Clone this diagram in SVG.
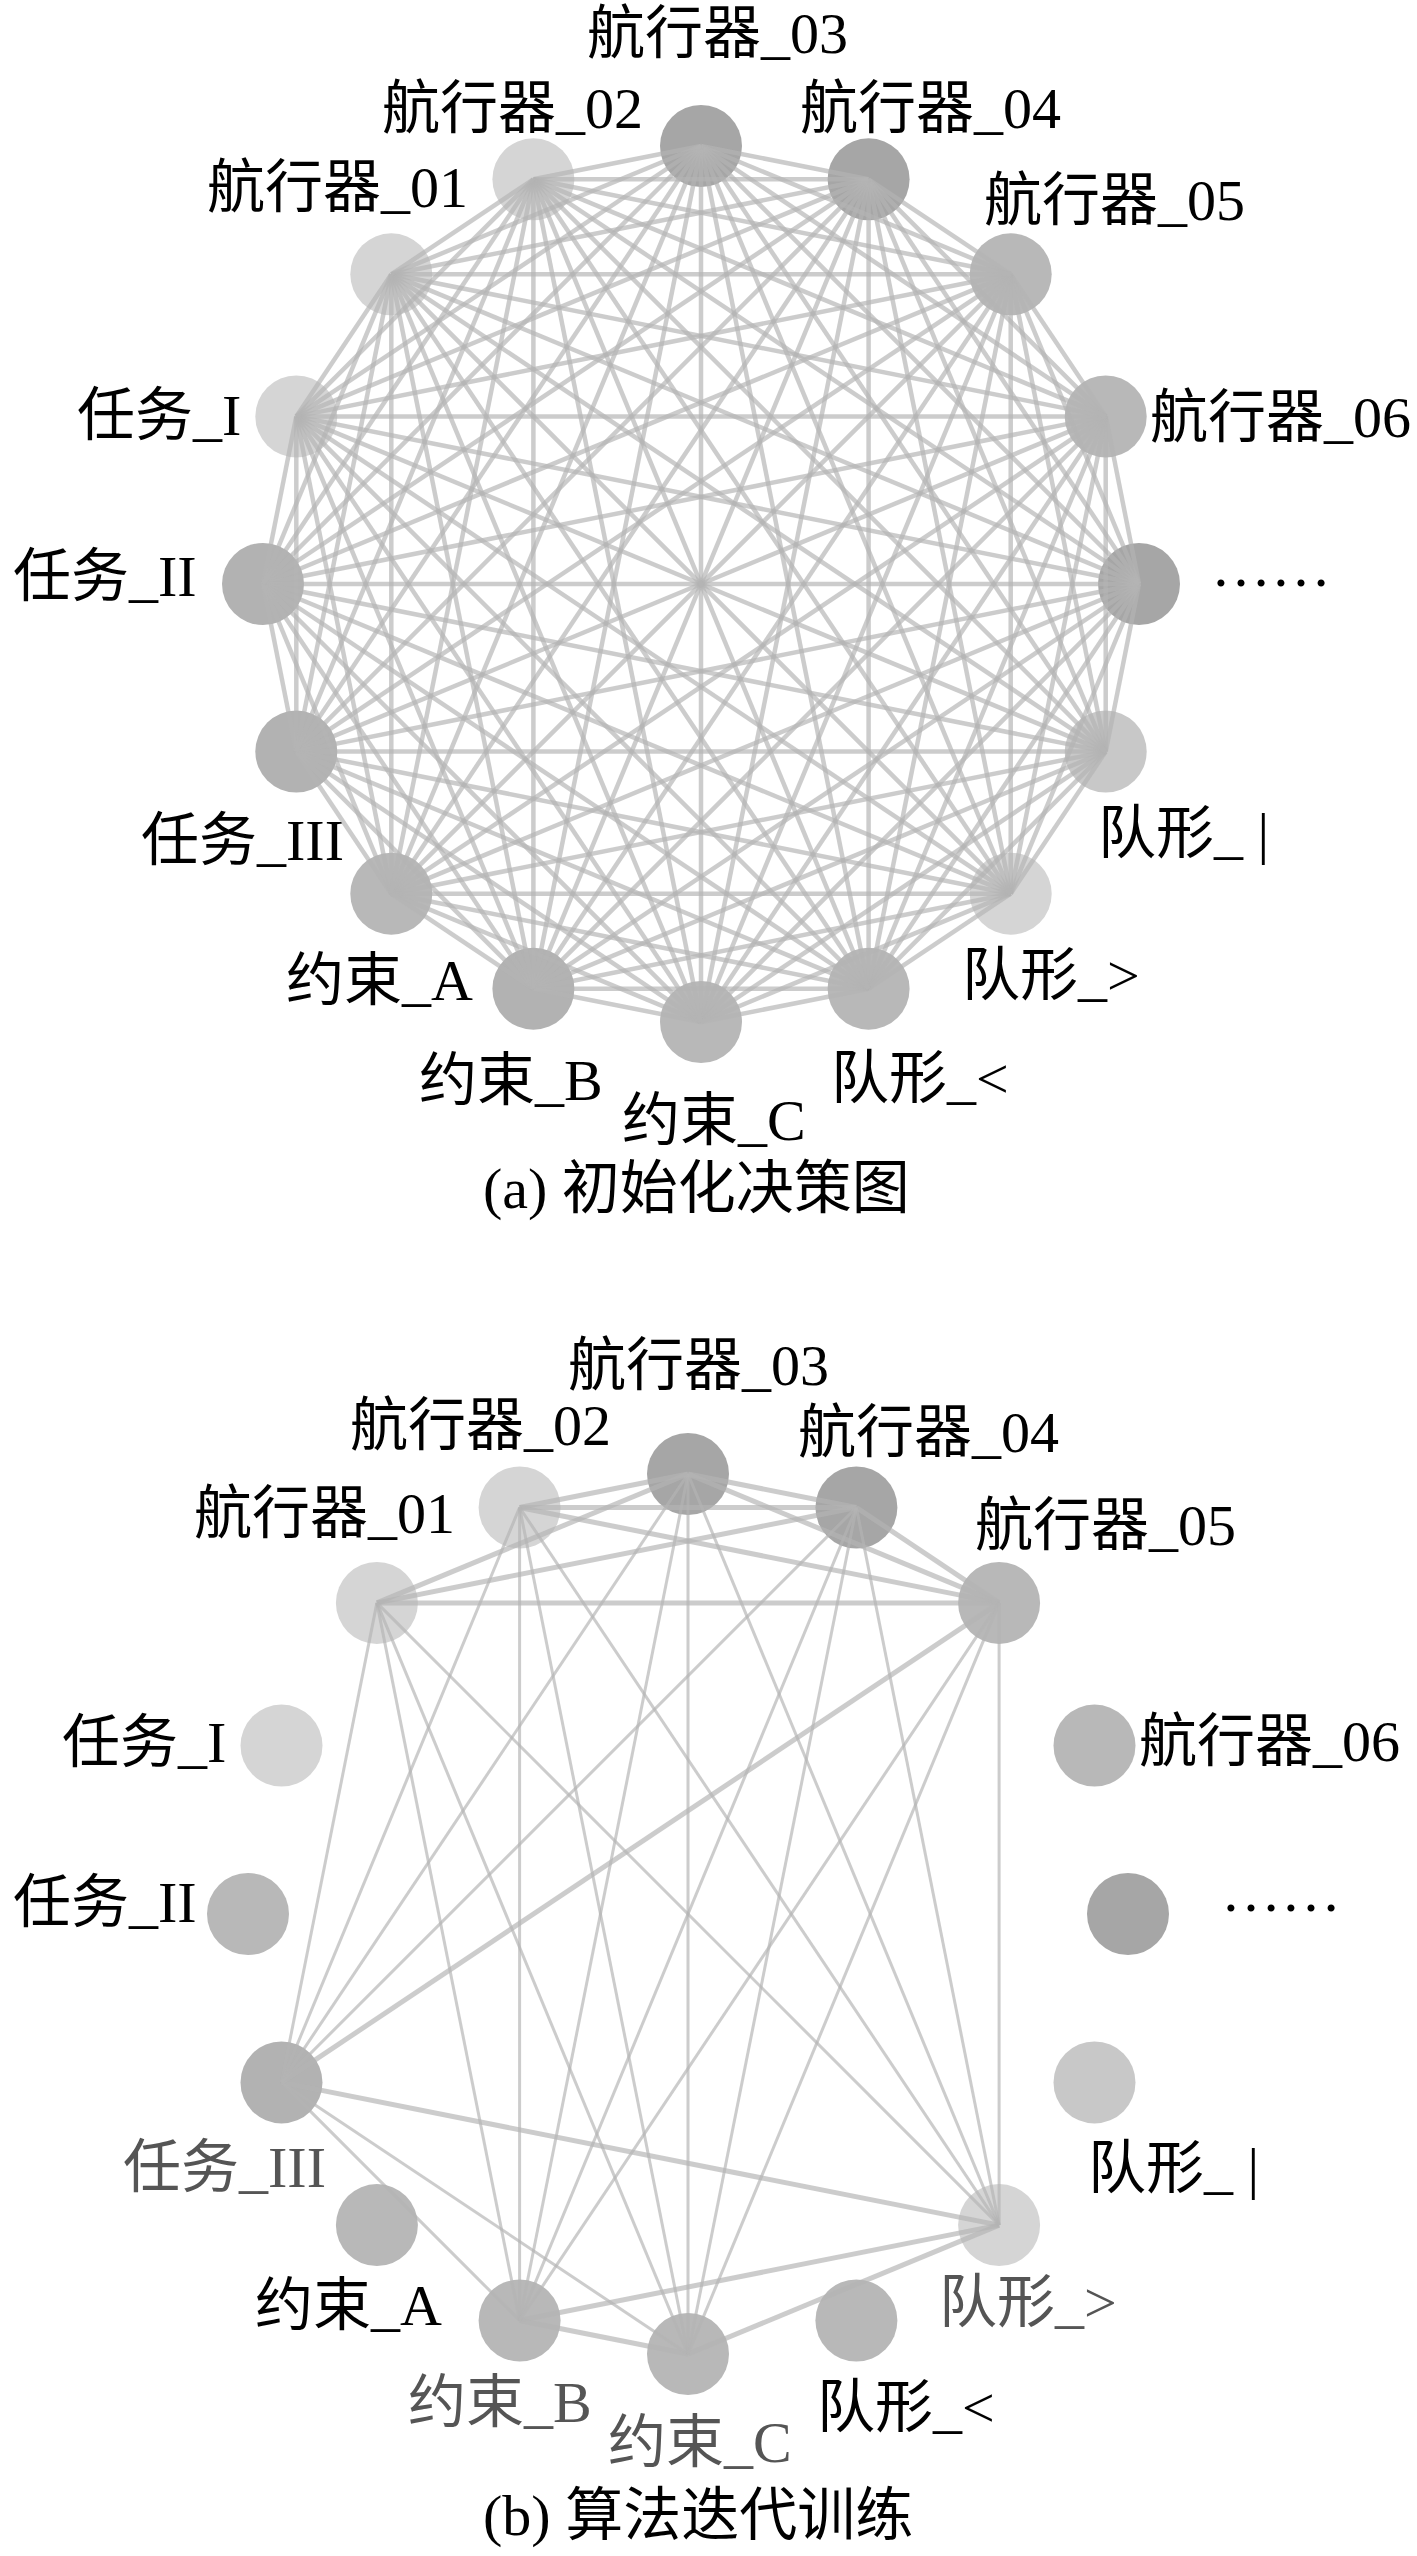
<svg xmlns="http://www.w3.org/2000/svg" width="1417" height="2556" viewBox="0 0 1417 2556">
<style>
text{font-family:"Liberation Serif","Noto Sans CJK SC",serif;font-size:58px;fill:#000}
.g{fill:#555}
.dk{fill:#a6a6a6}.md{fill:#b8b8b8}.mb{fill:#b2b2b2}.lm{fill:#c8c8c8}.lt{fill:#d5d5d5}
.ea path{stroke:#b4b4b4;stroke-opacity:.68;stroke-width:4.5;fill:none}
.eb path{stroke:#b4b4b4;stroke-opacity:.68;stroke-width:3;fill:none}
.eb path.t{stroke-width:5}
</style>
<rect width="1417" height="2556" fill="#fff"/>
<g id="nodes-a">
<g id="a-n03"><circle class="dk" cx="701" cy="146" r="41"/><text x="587" y="53">航行器_03</text></g>
<g id="a-n04"><circle class="dk" cx="868.6" cy="179.3" r="41"/><text x="800" y="128">航行器_04</text></g>
<g id="a-n05"><circle class="md" cx="1010.7" cy="274.3" r="41"/><text x="984" y="220">航行器_05</text></g>
<g id="a-n06"><circle class="md" cx="1105.7" cy="416.4" r="41"/><text x="1150" y="437">航行器_06</text></g>
<g id="a-more"><circle class="dk" cx="1139" cy="584" r="41"/><text x="1211" y="586" style="font-size:60px">……</text></g>
<g id="a-f1"><circle class="lm" cx="1105.7" cy="751.6" r="41"/><text x="1098" y="853">队形_ |</text></g>
<g id="a-f2"><circle class="lt" cx="1010.7" cy="893.7" r="41"/><text x="962" y="995">队形_&gt;</text></g>
<g id="a-f3"><circle class="md" cx="868.6" cy="988.7" r="41"/><text x="831" y="1098">队形_&lt;</text></g>
<g id="a-cC"><circle class="md" cx="701" cy="1022" r="41"/><text x="622" y="1140">约束_C</text></g>
<g id="a-cB"><circle class="mb" cx="533.4" cy="988.7" r="41"/><text x="419" y="1100">约束_B</text></g>
<g id="a-cA"><circle class="md" cx="391.3" cy="893.7" r="41"/><text x="286" y="1000">约束_A</text></g>
<g id="a-t3"><circle class="mb" cx="296.3" cy="751.6" r="41"/><text x="141" y="860">任务_III</text></g>
<g id="a-t2"><circle class="mb" cx="263" cy="584" r="41"/><text x="13" y="596">任务_II</text></g>
<g id="a-t1"><circle class="lt" cx="296.3" cy="416.4" r="41"/><text x="77" y="435">任务_I</text></g>
<g id="a-n01"><circle class="lt" cx="391.3" cy="274.3" r="41"/><text x="207" y="207">航行器_01</text></g>
<g id="a-n02"><circle class="lt" cx="533.4" cy="179.3" r="41"/><text x="382" y="128">航行器_02</text></g>
</g>
<g id="connectors-a" class="ea">
<path d="M701 146L868.6 179.3"/><path d="M701 146L1010.7 274.3"/><path d="M701 146L1105.7 416.4"/><path d="M701 146L1139 584"/><path d="M701 146L1105.7 751.6"/><path d="M701 146L1010.7 893.7"/><path d="M701 146L868.6 988.7"/><path d="M701 146L701 1022"/><path d="M701 146L533.4 988.7"/><path d="M701 146L391.3 893.7"/><path d="M701 146L296.3 751.6"/><path d="M701 146L263 584"/><path d="M701 146L296.3 416.4"/><path d="M701 146L391.3 274.3"/><path d="M701 146L533.4 179.3"/>
<path d="M868.6 179.3L1010.7 274.3"/><path d="M868.6 179.3L1105.7 416.4"/><path d="M868.6 179.3L1139 584"/><path d="M868.6 179.3L1105.7 751.6"/><path d="M868.6 179.3L1010.7 893.7"/><path d="M868.6 179.3L868.6 988.7"/><path d="M868.6 179.3L701 1022"/><path d="M868.6 179.3L533.4 988.7"/><path d="M868.6 179.3L391.3 893.7"/><path d="M868.6 179.3L296.3 751.6"/><path d="M868.6 179.3L263 584"/><path d="M868.6 179.3L296.3 416.4"/><path d="M868.6 179.3L391.3 274.3"/><path d="M868.6 179.3L533.4 179.3"/>
<path d="M1010.7 274.3L1105.7 416.4"/><path d="M1010.7 274.3L1139 584"/><path d="M1010.7 274.3L1105.7 751.6"/><path d="M1010.7 274.3L1010.7 893.7"/><path d="M1010.7 274.3L868.6 988.7"/><path d="M1010.7 274.3L701 1022"/><path d="M1010.7 274.3L533.4 988.7"/><path d="M1010.7 274.3L391.3 893.7"/><path d="M1010.7 274.3L296.3 751.6"/><path d="M1010.7 274.3L263 584"/><path d="M1010.7 274.3L296.3 416.4"/><path d="M1010.7 274.3L391.3 274.3"/><path d="M1010.7 274.3L533.4 179.3"/>
<path d="M1105.7 416.4L1139 584"/><path d="M1105.7 416.4L1105.7 751.6"/><path d="M1105.7 416.4L1010.7 893.7"/><path d="M1105.7 416.4L868.6 988.7"/><path d="M1105.7 416.4L701 1022"/><path d="M1105.7 416.4L533.4 988.7"/><path d="M1105.7 416.4L391.3 893.7"/><path d="M1105.7 416.4L296.3 751.6"/><path d="M1105.7 416.4L263 584"/><path d="M1105.7 416.4L296.3 416.4"/><path d="M1105.7 416.4L391.3 274.3"/><path d="M1105.7 416.4L533.4 179.3"/>
<path d="M1139 584L1105.7 751.6"/><path d="M1139 584L1010.7 893.7"/><path d="M1139 584L868.6 988.7"/><path d="M1139 584L701 1022"/><path d="M1139 584L533.4 988.7"/><path d="M1139 584L391.3 893.7"/><path d="M1139 584L296.3 751.6"/><path d="M1139 584L263 584"/><path d="M1139 584L296.3 416.4"/><path d="M1139 584L391.3 274.3"/><path d="M1139 584L533.4 179.3"/>
<path d="M1105.7 751.6L1010.7 893.7"/><path d="M1105.7 751.6L868.6 988.7"/><path d="M1105.7 751.6L701 1022"/><path d="M1105.7 751.6L533.4 988.7"/><path d="M1105.7 751.6L391.3 893.7"/><path d="M1105.7 751.6L296.3 751.6"/><path d="M1105.7 751.6L263 584"/><path d="M1105.7 751.6L296.3 416.4"/><path d="M1105.7 751.6L391.3 274.3"/><path d="M1105.7 751.6L533.4 179.3"/>
<path d="M1010.7 893.7L868.6 988.7"/><path d="M1010.7 893.7L701 1022"/><path d="M1010.7 893.7L533.4 988.7"/><path d="M1010.7 893.7L391.3 893.7"/><path d="M1010.7 893.7L296.3 751.6"/><path d="M1010.7 893.7L263 584"/><path d="M1010.7 893.7L296.3 416.4"/><path d="M1010.7 893.7L391.3 274.3"/><path d="M1010.7 893.7L533.4 179.3"/>
<path d="M868.6 988.7L701 1022"/><path d="M868.6 988.7L533.4 988.7"/><path d="M868.6 988.7L391.3 893.7"/><path d="M868.6 988.7L296.3 751.6"/><path d="M868.6 988.7L263 584"/><path d="M868.6 988.7L296.3 416.4"/><path d="M868.6 988.7L391.3 274.3"/><path d="M868.6 988.7L533.4 179.3"/>
<path d="M701 1022L533.4 988.7"/><path d="M701 1022L391.3 893.7"/><path d="M701 1022L296.3 751.6"/><path d="M701 1022L263 584"/><path d="M701 1022L296.3 416.4"/><path d="M701 1022L391.3 274.3"/><path d="M701 1022L533.4 179.3"/>
<path d="M533.4 988.7L391.3 893.7"/><path d="M533.4 988.7L296.3 751.6"/><path d="M533.4 988.7L263 584"/><path d="M533.4 988.7L296.3 416.4"/><path d="M533.4 988.7L391.3 274.3"/><path d="M533.4 988.7L533.4 179.3"/>
<path d="M391.3 893.7L296.3 751.6"/><path d="M391.3 893.7L263 584"/><path d="M391.3 893.7L296.3 416.4"/><path d="M391.3 893.7L391.3 274.3"/><path d="M391.3 893.7L533.4 179.3"/>
<path d="M296.3 751.6L263 584"/><path d="M296.3 751.6L296.3 416.4"/><path d="M296.3 751.6L391.3 274.3"/><path d="M296.3 751.6L533.4 179.3"/>
<path d="M263 584L296.3 416.4"/><path d="M263 584L391.3 274.3"/><path d="M263 584L533.4 179.3"/>
<path d="M296.3 416.4L391.3 274.3"/><path d="M296.3 416.4L533.4 179.3"/>
<path d="M391.3 274.3L533.4 179.3"/>
</g>
<text id="caption-a" x="483" y="1208">(a) 初始化决策图</text>
<g id="nodes-b">
<g id="b-n03"><circle class="dk" cx="688" cy="1474" r="41"/><text x="568" y="1385">航行器_03</text></g>
<g id="b-n04"><circle class="dk" cx="856.4" cy="1507.5" r="41"/><text x="798" y="1452">航行器_04</text></g>
<g id="b-n05"><circle class="md" cx="999.1" cy="1602.9" r="41"/><text x="975" y="1545">航行器_05</text></g>
<g id="b-n06"><circle class="md" cx="1094.5" cy="1745.6" r="41"/><text x="1139" y="1761">航行器_06</text></g>
<g id="b-more"><circle class="dk" cx="1128" cy="1914" r="41"/><text x="1221" y="1911" style="font-size:60px">……</text></g>
<g id="b-f1"><circle class="lm" cx="1094.5" cy="2082.4" r="41"/><text x="1088" y="2188">队形_ |</text></g>
<g id="b-f2"><circle class="lt" cx="999.1" cy="2225.1" r="41"/><text class="g" x="939" y="2322">队形_&gt;</text></g>
<g id="b-f3"><circle class="md" cx="856.4" cy="2320.5" r="41"/><text x="817" y="2427">队形_&lt;</text></g>
<g id="b-cC"><circle class="md" cx="688" cy="2354" r="41"/><text class="g" x="608" y="2462">约束_C</text></g>
<g id="b-cB"><circle class="md" cx="519.6" cy="2320.5" r="41"/><text class="g" x="408" y="2422">约束_B</text></g>
<g id="b-cA"><circle class="md" cx="376.9" cy="2225.1" r="41"/><text x="255" y="2325">约束_A</text></g>
<g id="b-t3"><circle class="mb" cx="281.5" cy="2082.4" r="41"/><text class="g" x="123" y="2187">任务_III</text></g>
<g id="b-t2"><circle class="md" cx="248" cy="1914" r="41"/><text x="13" y="1922">任务_II</text></g>
<g id="b-t1"><circle class="lt" cx="281.5" cy="1745.6" r="41"/><text x="62" y="1762">任务_I</text></g>
<g id="b-n01"><circle class="lt" cx="376.9" cy="1602.9" r="41"/><text x="194" y="1533">航行器_01</text></g>
<g id="b-n02"><circle class="lt" cx="519.6" cy="1507.5" r="41"/><text x="350" y="1445">航行器_02</text></g>
</g>
<g id="connectors-b" class="eb">
<path class="t" d="M376.9 1602.9L688 1474"/><path class="t" d="M376.9 1602.9L856.4 1507.5"/><path class="t" d="M376.9 1602.9L999.1 1602.9"/>
<path class="t" d="M519.6 1507.5L688 1474"/><path class="t" d="M519.6 1507.5L856.4 1507.5"/><path class="t" d="M519.6 1507.5L999.1 1602.9"/>
<path class="t" d="M688 1474L856.4 1507.5"/><path class="t" d="M688 1474L999.1 1602.9"/><path class="t" d="M856.4 1507.5L999.1 1602.9"/>
<path class="t" d="M281.5 2082.4L999.1 2225.1"/><path class="t" d="M519.6 2320.5L999.1 2225.1"/><path class="t" d="M519.6 2320.5L688 2354"/><path class="t" d="M688 2354L999.1 2225.1"/>
<path d="M281.5 2082.4L519.6 2320.5"/><path d="M281.5 2082.4L688 2354"/>
<path d="M281.5 2082.4L376.9 1602.9"/><path d="M281.5 2082.4L519.6 1507.5"/><path d="M281.5 2082.4L688 1474"/><path d="M281.5 2082.4L856.4 1507.5"/><path class="t" d="M281.5 2082.4L999.1 1602.9"/>
<path d="M519.6 2320.5L376.9 1602.9"/><path d="M519.6 2320.5L519.6 1507.5"/><path d="M519.6 2320.5L688 1474"/><path d="M519.6 2320.5L856.4 1507.5"/><path d="M519.6 2320.5L999.1 1602.9"/>
<path d="M688 2354L376.9 1602.9"/><path d="M688 2354L519.6 1507.5"/><path d="M688 2354L688 1474"/><path d="M688 2354L856.4 1507.5"/><path d="M688 2354L999.1 1602.9"/>
<path d="M999.1 2225.1L376.9 1602.9"/><path d="M999.1 2225.1L519.6 1507.5"/><path d="M999.1 2225.1L688 1474"/><path d="M999.1 2225.1L856.4 1507.5"/><path d="M999.1 2225.1L999.1 1602.9"/>
</g>
<text id="caption-b" x="483" y="2535">(b) 算法迭代训练</text>
</svg>
